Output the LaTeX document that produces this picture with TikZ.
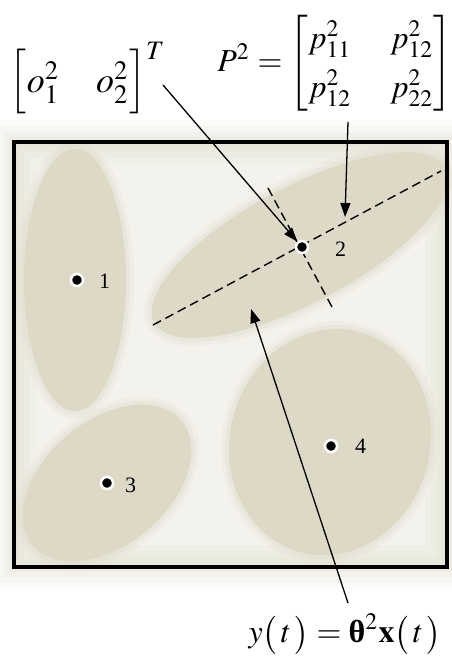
\documentclass[tikz,border=0pt]{standalone}
\usepackage{amsmath}
\usepackage{mathptmx}
\usepackage{fontspec}
\setmainfont{Liberation Serif}
\usetikzlibrary{arrows.meta}
\definecolor{blobc}{HTML}{DDD9C6}
\definecolor{bgc}{HTML}{F3F2EC}
\begin{document}
\begin{tikzpicture}[x=1pt,y=-1pt,
  lbl/.style={font=\fontsize{22}{24}\selectfont, inner sep=1pt, anchor=west},
  dot/.style={circle, fill=black, draw=white, line width=2.5pt, minimum size=12pt, inner sep=0pt},
  blob/.style={fill=blobc,
    preaction={draw=blobc, line width=16pt, opacity=0.18},
    preaction={draw=blobc, line width=8pt, opacity=0.3}},
  axisline/.style={dash pattern=on 9pt off 5pt, line width=1.4pt},
  arr/.style={-{Triangle[length=14pt,width=10pt]}, line width=1.3pt},
  framebox/.style={draw=black, line width=4pt},
  eq/.style={inner sep=0pt}
]
\useasboundingbox (0,0) rectangle (451,656);
\fill[white] (0,0) rectangle (451,656);
% interior and glow
\fill[bgc] (14,142) rectangle (447,567);
\foreach \w/\o in {44/0.10, 32/0.12, 20/0.15, 10/0.2}
  \draw[draw=blobc, opacity=\o, line width=\w pt] (14,142) rectangle (447,567);
% clusters
\path[blob] (75,280) ellipse [x radius=51, y radius=131];
\path[blob, rotate around={28:(300,245)}] (300,245) ellipse [x radius=165, y radius=58];
\path[blob, rotate around={40:(107,483)}] (107,483) ellipse [x radius=97, y radius=62];
\path[blob, rotate around={-15:(330,442)}] (330,442) ellipse [x radius=100, y radius=114];
% frame
\draw[framebox] (14,142) rectangle (447,567);
% axes of cluster 2
\coordinate (m1) at (153,325); \coordinate (m2) at (441,171);
\coordinate (n1) at (268,188); \coordinate (n2) at (332,307);
\draw[axisline] (m1) -- (m2);
\draw[axisline] (n1) -- (n2);
% centres
\node[dot] (d1) at (77,280) {};
\node[dot] (d2) at (302,247) {};
\node[dot] (d3) at (107,483) {};
\node[dot] (d4) at (331,446) {};
\node[lbl] (l1) at (98,281) {1};
\node[lbl] (l2) at (334,249) {2};
\node[lbl] (l3) at (124,485) {3};
\node[lbl] (l4) at (354,446) {4};
% formulas
\node[eq, scale=3.6] (sig) at (88,78) {\renewcommand{\arraystretch}{1.3}$\begin{bmatrix} o_1^2 & o_2^2\end{bmatrix}^T$};
\node[eq, scale=3.2] (P) at (335,63) {\renewcommand{\arraystretch}{1.28}\setlength{\arraycolsep}{6pt}$P^2=\begin{bmatrix} p_{11}^2 & p_{12}^2\\ p_{12}^2 & p_{22}^2\end{bmatrix}$};
\node[eq, scale=3.2] (Y) at (345,634) {$y\bigl(\,t\,\bigr)=\text{\bfseries θ}^2\mathbf{x}\bigl(\,t\,\bigr)$};
% arrows
\coordinate (s0) at (163,85);
\draw[arr] (s0) -- (d2);
\coordinate (p0) at (348,122); \coordinate (p1) at (345,217);
\draw[arr] (p0) -- (p1);
\coordinate (y0) at (348,603); \coordinate (y1) at (251,309);
\draw[arr] (y0) -- (y1);
\end{tikzpicture}
\end{document}
